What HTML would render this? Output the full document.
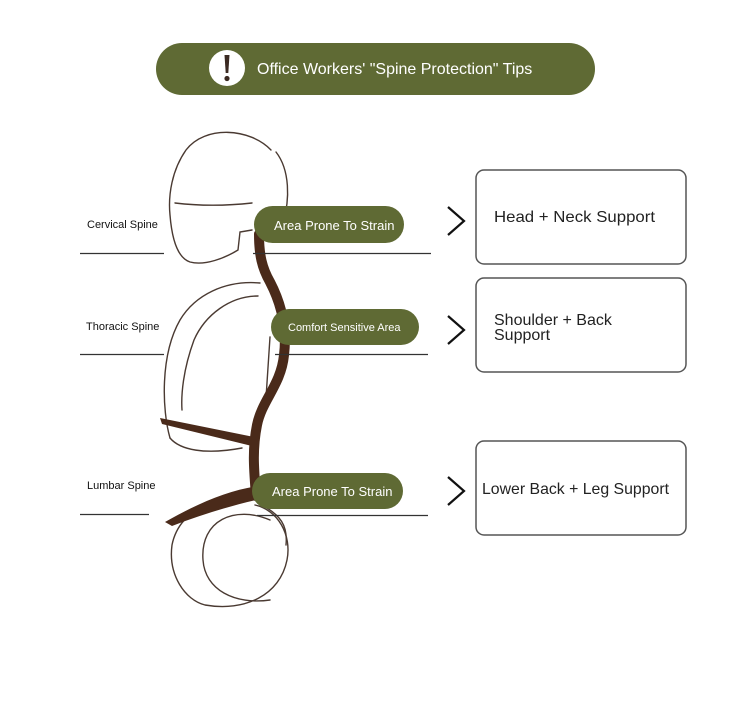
<!DOCTYPE html>
<html><head><meta charset="utf-8"><style>
html,body{margin:0;padding:0;background:#fff;width:750px;height:702px;overflow:hidden}
svg{display:block}
text{font-family:"Liberation Sans",sans-serif}
</style></head><body>
<svg width="750" height="702" viewBox="0 0 750 702" xmlns="http://www.w3.org/2000/svg">
<!-- header -->
<rect x="156" y="43" width="439" height="52" rx="26" fill="#5f6a34"/>
<circle cx="227" cy="68" r="18" fill="#fff"/>
<path d="M224.5 55 L229.5 55 L228.3 73 L225.7 73 Z" fill="#3b2a22"/>
<circle cx="227" cy="78.5" r="2.6" fill="#3b2a22"/>
<text x="257" y="74" font-size="16" fill="#fff">Office Workers' "Spine Protection" Tips</text>

<!-- figure outlines -->
<g fill="none" stroke="#4a3a32" stroke-width="1.4" stroke-linecap="round">
<path d="M271 150 C250 128 205 125 186 150 C172 170 168 195 170 215 C172 240 178 258 190 262 C205 266 225 258 238 250 L240 232 L252 230"/>
<path d="M276 152 C290 170 290 200 283 222"/>
<path d="M175 203 C200 206 225 206 252 203"/>
<path d="M260 283 C225 280 195 295 180 320 C160 355 162 410 170 438"/>
<path d="M258 296 C230 296 205 315 194 340 C183 370 181 395 182 410"/>
<path d="M170 438 C180 450 205 455 242 448"/>
<path d="M270 337 L266 398"/>
<path d="M250 500 C225 495 180 505 172 545 C168 575 185 600 205 605 C245 612 280 595 287 560 C292 535 278 510 255 505"/>
<path d="M270 520 C235 505 200 520 203 560 C205 590 235 605 270 600"/>
<path d="M262 505 C280 515 288 525 286 545"/>
</g>

<!-- spine -->
<path d="M259 234 C259 255 262 268 270 282 C282 305 287 330 284 355 C281 385 262 400 257 425 C252 450 254 470 256 496" fill="none" stroke="#4a2a1a" stroke-width="10" stroke-linecap="round"/>
<path d="M160 418 L254 437 L252 446 L162 424 Z" fill="#4a2a1a"/>
<path d="M165 522 C200 502 230 490 258 486 L256 500 C230 506 200 515 172 526 Z" fill="#4a2a1a"/>

<!-- lines -->
<g stroke="#333" stroke-width="1.2">
<line x1="80" y1="253.5" x2="164" y2="253.5"/>
<line x1="80" y1="354.5" x2="164" y2="354.5"/>
<line x1="80" y1="514.5" x2="149" y2="514.5"/>
<line x1="253" y1="253.5" x2="431" y2="253.5"/>
<line x1="275" y1="354.5" x2="428" y2="354.5"/>
<line x1="257" y1="515.5" x2="428" y2="515.5"/>
</g>

<!-- left labels -->
<g font-size="11" fill="#111">
<text x="87" y="228">Cervical Spine</text>
<text x="86" y="330">Thoracic Spine</text>
<text x="87" y="489">Lumbar Spine</text>
</g>

<!-- pills -->
<rect x="254" y="206" width="150" height="37" rx="18.5" fill="#5f6a34"/>
<text x="274" y="230" font-size="13" fill="#fff">Area Prone To Strain</text>
<rect x="271" y="309" width="148" height="36" rx="18" fill="#5f6a34"/>
<text x="288" y="331" font-size="11" fill="#fff">Comfort Sensitive Area</text>
<rect x="252" y="473" width="151" height="36" rx="18" fill="#5f6a34"/>
<text x="272" y="496" font-size="13" fill="#fff">Area Prone To Strain</text>

<!-- chevrons -->
<g fill="none" stroke="#111" stroke-width="2.2">
<path d="M448 207 L464 221 L448 235"/>
<path d="M448 316 L464 330 L448 344"/>
<path d="M448 477 L464 491 L448 505"/>
</g>

<!-- boxes -->
<g fill="#fff" stroke="#555" stroke-width="1.5">
<rect x="476" y="170" width="210" height="94" rx="8"/>
<rect x="476" y="278" width="210" height="94" rx="8"/>
<rect x="476" y="441" width="210" height="94" rx="8"/>
</g>
<g font-size="16" fill="#222">
<text x="494" y="222" textLength="161" lengthAdjust="spacingAndGlyphs">Head + Neck Support</text>
<text x="494" y="325">Shoulder + Back</text>
<text x="494" y="340">Support</text>
<text x="482" y="494" textLength="187" lengthAdjust="spacingAndGlyphs">Lower Back + Leg Support</text>
</g>
</svg>
</body></html>
